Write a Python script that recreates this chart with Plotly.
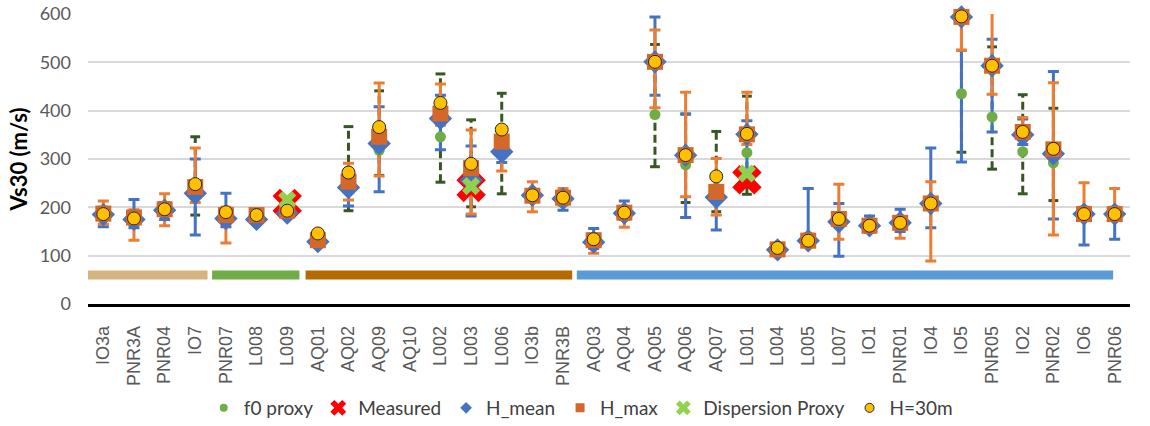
import plotly.graph_objects as go

# ---- data -------------------------------------------------------------
stations = ["IO3a", "PNR3A", "PNR04", "IO7", "PNR07", "L008", "L009", "AQ01",
            "AQ02", "AQ09", "AQ10", "L002", "L003", "L006", "IO3b", "PNR3B",
            "AQ03", "AQ04", "AQ05", "AQ06", "AQ07", "L001", "L004", "L005",
            "L007", "IO1", "PNR01", "IO4", "IO5", "PNR05", "IO2", "PNR02",
            "IO6", "PNR06"]
N = None

# f0 proxy with its range
f0_proxy = [N, N, N, 245, N, N, N, N, 250, 318, N, 346, 250, 330, N, N,
            N, N, 392, 288, 240, 313, N, N, N, N, N, N, 435, 387, 315, 292, N, N]
f0_high = [N, N, N, 346, N, N, N, N, 367, 441, N, 476, 381, 436, N, N,
           N, N, 537, 393, 357, 430, N, N, N, N, N, N, 525, 532, 433, 405, N, N]
f0_low = [N, N, N, 184, N, N, N, N, 193, 266, N, 252, 201, 228, N, N,
          N, N, 284, 210, 191, 227, N, N, N, N, N, N, 314, 279, 228, 214, N, N]

# Vs30 from mean depth H_mean with its range
h_mean = [185, 175, 194, 229, 177, 175, 188, 129, 241, 332, N, 384, 256, 315, 225, 218,
          128, 188, 501, 308, 221, 351, 112, 131, 170, 162, 168, 208, 594, 493, 350, 311, 186, 186]
h_mean_high = [200, 216, 210, 300, 229, 185, 196, 140, 270, 408, N, 432, 327, 345, 230, 225,
               156, 213, 594, 393, 240, 379, 118, 239, 208, 182, 196, 323, 620, 548, 383, 481, 200, 200]
h_mean_low = [160, 158, 175, 143, 160, 170, 182, 120, 203, 232, N, 319, 182, 293, 215, 194,
              115, 175, 432, 179, 153, 250, 108, 120, 99, 150, 150, 158, 294, 356, 330, 176, 122, 134]

# Vs30 from maximum depth H_max with its range
h_max = [187, 179, 196, 242, 184, 184, 193, 132, 253, 346, N, 394, 281, 336, 224, 220,
         132, 189, 501, 308, 232, 351, 113, 131, 176, 162, 168, 208, 594, 493, 356, 320, 186, 186]
h_max_high = [213, 195, 228, 323, 200, 190, 198, 140, 291, 457, N, 455, 360, 350, 253, 239,
              145, 200, 567, 438, 301, 438, 118, 145, 248, 170, 180, 253, 640, 650, 386, 458, 251, 239]
h_max_low = [165, 132, 162, 210, 126, 178, 188, 125, 215, 265, N, 370, 186, 275, 191, 205,
             105, 159, 406, 222, 184, 330, 108, 125, 134, 148, 136, 89, 525, 434, 345, 143, 175, 175]

# Vs30 with H = 30 m
h_30 = [186, 177, 196, 248, 190, 184, 193, 146, 272, 366, N, 416, 290, 361, 225, 220,
        134, 189, 501, 308, 264, 352, 116, 131, 176, 162, 168, 208, 595, 493, 356, 321, 186, 186]

# measured and dispersion-based Vs30 (three sites only)
measured = [N, N, N, N, N, N, 208, N, N, N, N, N, 241, N, N, N,
            N, N, N, N, N, 257, N, N, N, N, N, N, N, N, N, N, N, N]
dispersion = [N, N, N, N, N, N, 215, N, N, N, N, N, 244, N, N, N,
              N, N, N, N, N, 270, N, N, N, N, N, N, N, N, N, N, N, N]

# site groups drawn as bands under the points (span in station-index units)
group_from = [-0.5, 3.55, 6.6, 15.45]
group_to = [3.4, 6.4, 15.3, 32.95]
group_level = 60

# ---- styles -----------------------------------------------------------
C_F0 = "#70AD47"
C_F0_BAR = "#385723"
C_MEAS = "#FF0000"
C_MEAN = "#4472C4"
C_MAX_BAR = "#ED7D31"
C_MAX = "#D2692B"
C_DISP = "#92D050"
C_H30 = "#FFC000"
GROUP_COLORS = ["#D5B480", "#70AD47", "#B46A00", "#5B9BD5"]

x = list(range(len(stations)))


def up(hi, v):
    return [None if (a is None or b is None) else a - b for a, b in zip(hi, v)]


def down(lo, v):
    return [None if (a is None or b is None) else b - a for a, b in zip(lo, v)]


fig = go.Figure()

# group bands
for a, b, col in zip(group_from, group_to, GROUP_COLORS):
    fig.add_trace(go.Scatter(x=[a, b], y=[group_level, group_level], mode="lines",
                             line=dict(color=col, width=9), showlegend=False,
                             hoverinfo="skip"))

# f0 ranges: dashed stems with end caps
sx, sy, cx, cy = [], [], [], []
for i, v in enumerate(f0_proxy):
    if v is None:
        continue
    sx += [i, i, None]
    sy += [f0_low[i], f0_high[i], None]
    cx += [i, i]
    cy += [f0_low[i], f0_high[i]]
fig.add_trace(go.Scatter(x=sx, y=sy, mode="lines",
                         line=dict(color=C_F0_BAR, width=3, dash="8px,4px"),
                         showlegend=False, hoverinfo="skip"))
fig.add_trace(go.Scatter(x=cx, y=cy, mode="markers",
                         marker=dict(symbol="line-ew", size=7,
                                     line=dict(color=C_F0_BAR, width=3)),
                         showlegend=False, hoverinfo="skip"))

# H_mean and H_max ranges
for v, hi, lo, col in [(h_mean, h_mean_high, h_mean_low, C_MEAN),
                       (h_max, h_max_high, h_max_low, C_MAX_BAR)]:
    fig.add_trace(go.Scatter(
        x=x, y=v, mode="markers", marker=dict(size=1, opacity=0),
        error_y=dict(type="data", symmetric=False, array=up(hi, v),
                     arrayminus=down(lo, v), color=col, thickness=3, width=5.5),
        showlegend=False, hoverinfo="skip", cliponaxis=True))

# point markers
marker_sets = [
    (f0_proxy, dict(symbol="circle", size=11, color=C_F0)),
    (measured, dict(symbol="x", size=26, color=C_MEAS)),
    (h_mean, dict(symbol="diamond", size=18, color=C_MEAN)),
    (h_max, dict(symbol="square", size=16, color=C_MAX)),
    (dispersion, dict(symbol="x", size=16, color=C_DISP)),
    (h_30, dict(symbol="circle", size=13, color=C_H30,
                line=dict(color="#262626", width=1))),
]
for vals, mk in marker_sets:
    fig.add_trace(go.Scatter(x=x, y=vals, mode="markers", marker=mk,
                             showlegend=False, cliponaxis=False))

# legend entries
legend_items = [
    ("f0 proxy", dict(symbol="circle", size=8, color=C_F0)),
    ("Measured", dict(symbol="x", size=14, color=C_MEAS)),
    ("H_mean", dict(symbol="diamond", size=9, color=C_MEAN)),
    ("H_max", dict(symbol="square", size=9, color=C_MAX)),
    ("Dispersion Proxy", dict(symbol="x", size=13, color=C_DISP)),
    ("H=30m", dict(symbol="circle", size=9, color=C_H30,
                   line=dict(color="#262626", width=1))),
]
for name, mk in legend_items:
    fig.add_trace(go.Scatter(x=[None], y=[None], mode="markers", marker=mk,
                             name=name, showlegend=True))

fig.update_layout(
    width=1150, height=426,
    margin=dict(l=88, r=20, t=14, b=122, autoexpand=False),
    paper_bgcolor="white", plot_bgcolor="white",
    showlegend=True,
    legend=dict(orientation="h", xref="container", yref="container",
                x=0.505, xanchor="center", y=0.0423, yanchor="middle",
                font=dict(family="Lato", size=19, color="#404040"),
                bgcolor="rgba(0,0,0,0)"),
    xaxis=dict(type="linear", range=[-0.5, len(stations) - 0.5],
               tickmode="array", tickvals=x, ticktext=stations,
               tickangle=-90, showgrid=False, zeroline=False, automargin=False,
               showline=True, linecolor="black", linewidth=2.5, ticks="",
               tickfont=dict(family="Liberation Sans", size=18, color="#595959"),
               ticklabelstandoff=12),
    yaxis=dict(range=[0, 600], dtick=100, showgrid=True, gridcolor="#D9D9D9",
               gridwidth=1.5, zeroline=False, showline=False, ticks="",
               automargin=False,
               tickfont=dict(family="Lato", size=18, color="#595959"),
               ticklabelstandoff=16,
               title=dict(text="<b>Vs30 (m/s)</b>", standoff=5,
                          font=dict(family="Lato", size=22, color="black"))),
)

fig.write_html("out.html")
